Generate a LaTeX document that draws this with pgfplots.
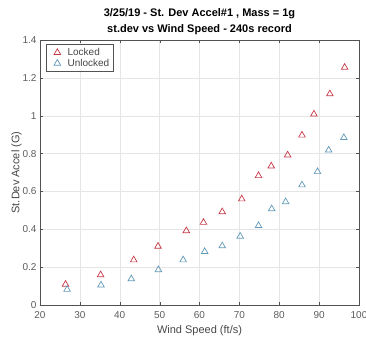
\documentclass[border=0pt]{standalone}
\usepackage{pgfplots}
\pgfplotsset{compat=1.18}
\usepackage{fontspec}
\setmainfont{Liberation Sans}
\definecolor{lockc}{rgb}{0.78,0.22,0.28}
\definecolor{unlc}{rgb}{0.38,0.6,0.72}
\definecolor{axc}{rgb}{0.15,0.15,0.15}
\pgfplotsset{mytri legend/.style={legend image code/.code={\path[draw=none,fill=none] (0cm,0cm) -- (0.62cm,0cm); \draw[##1,/tikz/only marks] plot coordinates {(0.33cm,0cm)};}}}
\begin{document}
\begin{tikzpicture}
\begin{axis}[
  name=ax,
  scale only axis,
  width=319pt, height=265pt,
  xmin=20, xmax=100, ymin=0, ymax=1.4,
  xtick={20,30,...,100},
  ytick={0,0.2,...,1.4},
  yticklabel style={/pgf/number format/fixed},
  /pgf/number format/assume math mode=true,
  tick label style={font=\fontsize{10}{11}\selectfont, text=axc!75},
  xticklabel style={yshift=-3pt},
  label style={font=\fontsize{11}{12}\selectfont, text=axc!85},
  xlabel={Wind Speed (ft/s)},
  ylabel={St.Dev Accel (G)},
  xlabel style={yshift=0pt},
  ylabel style={yshift=-6pt},
  title={3/25/19 - St. Dev Accel\#1 , Mass = 1g\\st.dev vs Wind Speed - 240s record},
  title style={font=\bfseries\fontsize{11}{16}\selectfont, align=center, yshift=-4pt},
  grid=major,
  grid style={gray!20, line width=0.4pt},
  axis line style={axc!80},
  tick style={axc!80},
  tick align=inside,
  major tick length=3pt,
  legend style={at={(0.018,0.985)}, anchor=north west, font=\fontsize{10}{11}\selectfont, draw=axc!80, inner sep=2pt, row sep=-2pt, text=axc!85},
  legend cell align=left,
]
\addplot[only marks, mark=triangle, mark size=3.8pt, color=lockc, mark options={line width=0.7pt}, mytri legend] coordinates {
(26.4,0.109) (35.2,0.159) (43.5,0.238) (49.6,0.310) (56.7,0.392) (61.0,0.436)
(65.7,0.492) (70.6,0.560) (74.8,0.683) (78.0,0.734) (82.1,0.792) (85.7,0.897)
(88.7,1.008) (92.7,1.115) (96.4,1.255)
};
\addlegendentry{Locked}
\addplot[only marks, mark=triangle, mark size=3.8pt, color=unlc, mark options={line width=0.7pt}, mytri legend] coordinates {
(26.8,0.082) (35.3,0.105) (42.9,0.138) (49.7,0.186) (55.9,0.238) (61.3,0.282)
(65.7,0.312) (70.2,0.363) (74.8,0.419) (78.1,0.508) (81.6,0.545) (85.7,0.634)
(89.6,0.704) (92.4,0.818) (96.2,0.884)
};
\addlegendentry{Unlocked}
\end{axis}
\pgfresetboundingbox
\path ([xshift=-40pt,yshift=-32pt]ax.south west) rectangle ([xshift=7pt,yshift=40pt]ax.north east);
\end{tikzpicture}
\end{document}
